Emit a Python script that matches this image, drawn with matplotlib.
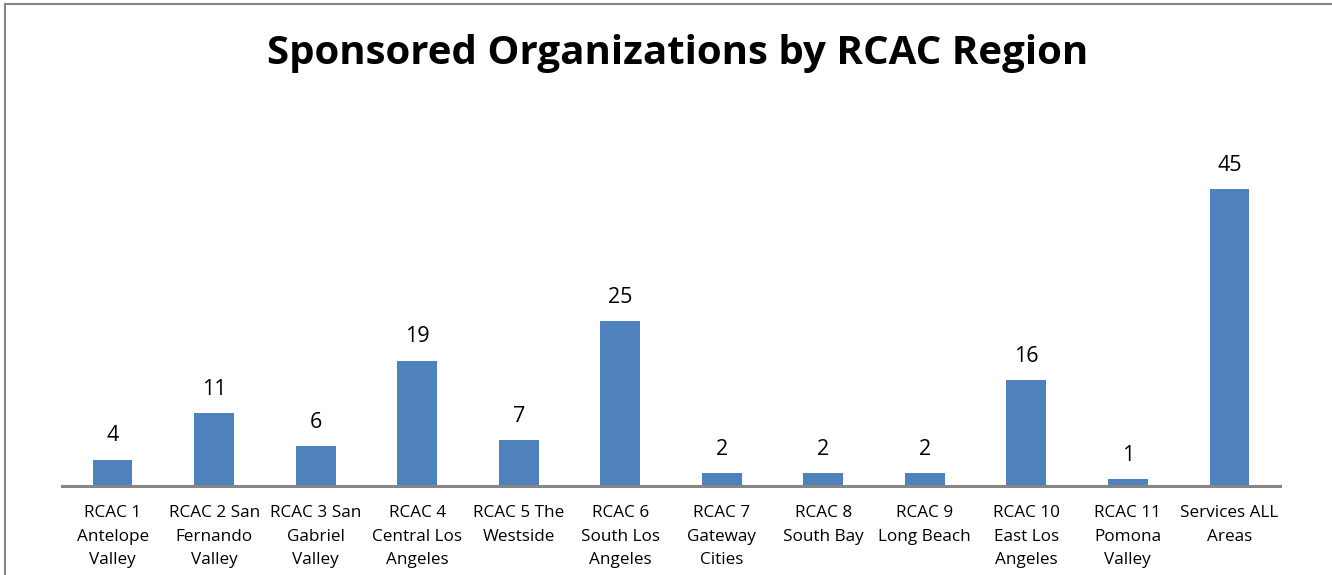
import matplotlib.pyplot as plt
from matplotlib.lines import Line2D

regions = ['RCAC 1\nAntelope\nValley', 'RCAC 2 San\nFernando\nValley', 'RCAC 3 San\nGabriel\nValley',
           'RCAC 4\nCentral Los\nAngeles', 'RCAC 5 The\nWestside', 'RCAC 6\nSouth Los\nAngeles',
           'RCAC 7\nGateway\nCities', 'RCAC 8\nSouth Bay', 'RCAC 9\nLong Beach',
           'RCAC 10\nEast Los\nAngeles', 'RCAC 11\nPomona\nValley', 'Services ALL\nAreas']
counts = [4, 11, 6, 19, 7, 25, 2, 2, 2, 16, 1, 45]

plt.rcParams['font.family'] = ['Open Sans', 'DejaVu Sans']

fig = plt.figure(figsize=(13.32, 5.75), dpi=100)
ax = fig.add_axes([0.0465, 0.1548, 0.9145, 0.574])

x = range(len(counts))
bars = ax.bar(x, counts, width=0.39, color='#4F81BD')
for xi, v in zip(x, counts):
    ax.text(xi, v + 2.0, str(v), ha='center', va='bottom', fontsize=15.5)

ax.set_xlim(-0.5, len(counts) - 0.5)
ax.set_ylim(0, 50)
ax.set_xticks(list(x))
ax.set_xticklabels(regions, fontsize=12.3, linespacing=1.62, va='top')
ax.tick_params(axis='x', length=0, pad=14)
ax.set_yticks([])
for s in ['top', 'right', 'left']:
    ax.spines[s].set_visible(False)
ax.spines['bottom'].set_color('#868686')
ax.spines['bottom'].set_linewidth(2.2)

fig.text(0.509, 0.907, 'Sponsored Organizations by RCAC Region', ha='center', va='center',
         fontsize=29, fontweight='bold')

# chart border (left and top edges visible)
fig.add_artist(Line2D([5/1332, 5/1332], [0, 1 - 4/575], color='#868686', lw=1.5))
fig.add_artist(Line2D([5/1332, 1], [1 - 4/575, 1 - 4/575], color='#868686', lw=1.5))

fig.savefig('out.png', dpi=100)
